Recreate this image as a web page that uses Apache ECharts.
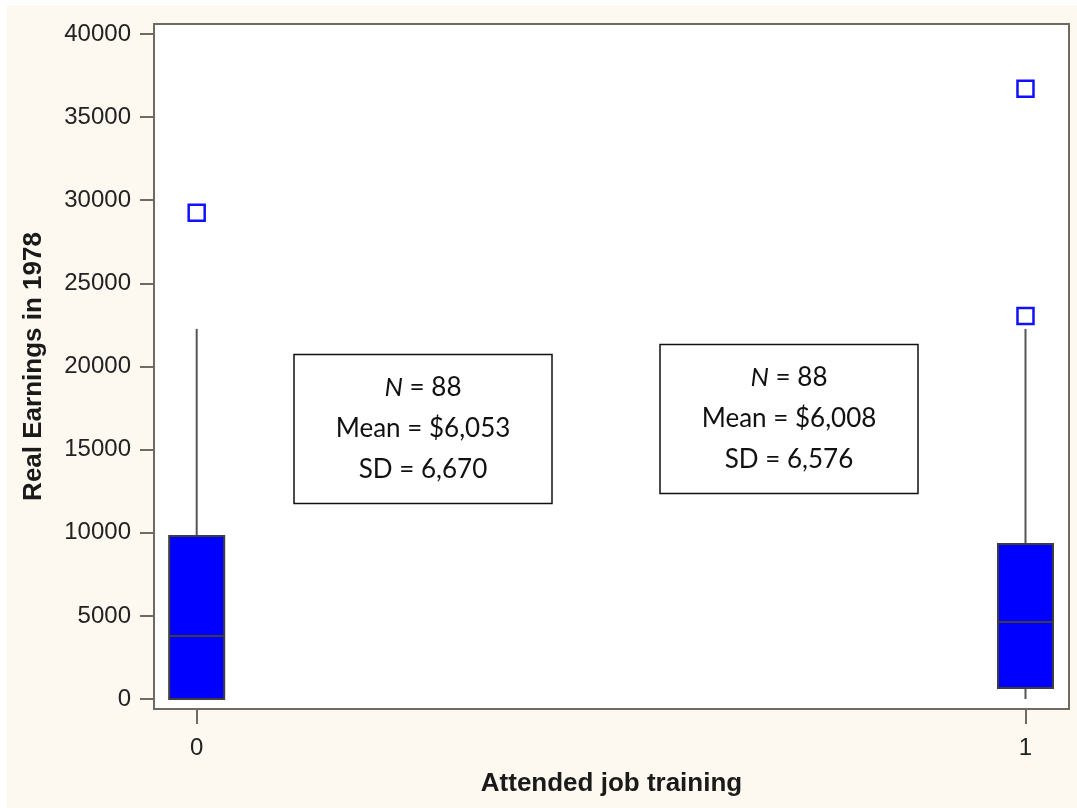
<!DOCTYPE html>
<html>
<head>
<meta charset="utf-8">
<script src="https://cdn.jsdelivr.net/npm/echarts@6/dist/echarts.min.js"></script>
<style>
  html, body { margin: 0; padding: 0; background: #ffffff; }
  #chart { position: absolute; left: 7px; top: 5px; width: 1070px; height: 803px; }
</style>
</head>
<body>
<div id="chart"></div>
<script>
// Groups on the x axis (attended job training: 0 = no, 1 = yes)
const categories = ['0', '1'];
// Box statistics per group: [lower whisker, Q1, median, Q3, upper whisker]
const boxStats = [
  [0, 0, 3790, 9800, 22260],
  [0, 660, 4630, 9330, 22260]
];
// Outliers per group: [group index, earnings]
const outliers = [
  [0, 29240],
  [1, 36700],
  [1, 23040]
];
// Summary statistics shown in the annotation boxes
const groupN = [88, 88];
const groupMean = [6053, 6008];
const groupSD = [6670, 6576];
// Tick values of the earnings axis
const yTicks = [0, 5000, 10000, 15000, 20000, 25000, 30000, 35000, 40000];
const xTicks = [0, 1];

const frameColor = '#6f6b62';
const labelFont = '"Liberation Sans", Arial, sans-serif';
const noteFont = 'Lato, "Open Sans", sans-serif';

const boxData = boxStats.map((s, i) => [i].concat(s));
const fmt = v => v.toLocaleString('en-US');

function noteText(i) {
  return '{i|N} = ' + groupN[i] + '\nMean = $' + fmt(groupMean[i]) + '\nSD = ' + fmt(groupSD[i]);
}

// Annotation box centres in chart pixels
const notes = [
  { cx: 416, cy: 424, w: 258, h: 149 },
  { cx: 782, cy: 414, w: 258, h: 149 }
];

const chart = echarts.init(document.getElementById('chart'), null, { renderer: 'canvas' });

chart.setOption({
  backgroundColor: '#fdf9f1',
  animation: false,
  grid: {
    left: 147, top: 19, right: 8, bottom: 99,
    show: true,
    backgroundColor: '#ffffff',
    borderColor: frameColor,
    borderWidth: 2
  },
  xAxis: {
    type: 'value',
    min: -0.0515,
    max: 1.0525,
    name: 'Attended job training',
    nameLocation: 'middle',
    nameGap: 62,
    nameTextStyle: { fontFamily: labelFont, fontSize: 26, fontWeight: 'bold', color: '#1a1a1a' },
    axisLine: { show: false, onZero: false },
    splitLine: { show: false },
    axisTick: {
      show: true, length: 15, customValues: xTicks,
      lineStyle: { color: frameColor, width: 2 }
    },
    axisLabel: {
      customValues: xTicks,
      formatter: v => categories[Math.round(v)],
      margin: 27,
      fontFamily: labelFont, fontSize: 24, color: '#222'
    }
  },
  yAxis: {
    type: 'value',
    min: -600,
    max: 40600,
    name: 'Real Earnings in 1978',
    nameLocation: 'middle',
    nameGap: 107,
    nameTextStyle: { fontFamily: labelFont, fontSize: 26, fontWeight: 'bold', color: '#1a1a1a' },
    axisLine: { show: false, onZero: false },
    splitLine: { show: false },
    axisTick: {
      show: true, length: 14, customValues: yTicks,
      lineStyle: { color: frameColor, width: 2 }
    },
    axisLabel: {
      customValues: yTicks,
      formatter: v => String(v),
      margin: 23,
      fontFamily: labelFont, fontSize: 24, color: '#222'
    }
  },
  series: [
    {
      type: 'custom',
      data: boxData,
      encode: { x: 0, y: [1, 2, 3, 4, 5] },
      renderItem: function (params, api) {
        const x = api.value(0);
        const pt = k => api.coord([x, api.value(k)]);
        const lo = pt(1), q1 = pt(2), med = pt(3), q3 = pt(4), hi = pt(5);
        const half = 27.5;
        const whisker = { stroke: '#555555', lineWidth: 2 };
        return {
          type: 'group',
          children: [
            { type: 'line', shape: { x1: lo[0], y1: lo[1], x2: lo[0], y2: q1[1] }, style: whisker },
            { type: 'line', shape: { x1: hi[0], y1: hi[1], x2: hi[0], y2: q3[1] }, style: whisker },
            {
              type: 'rect',
              shape: { x: q3[0] - half, y: q3[1], width: half * 2, height: q1[1] - q3[1] },
              style: { fill: '#0000ff', stroke: '#3d3d3d', lineWidth: 2 }
            },
            {
              type: 'line',
              shape: { x1: med[0] - half, y1: med[1], x2: med[0] + half, y2: med[1] },
              style: { stroke: '#3d3d3d', lineWidth: 2 }
            }
          ]
        };
      },
      z: 2
    },
    {
      type: 'scatter',
      data: outliers,
      symbol: 'rect',
      symbolSize: 16,
      itemStyle: { color: '#ffffff', borderColor: '#1010ff', borderWidth: 2.5, opacity: 1 },
      z: 3
    }
  ],
  graphic: notes.map((n, i) => ({
    type: 'group',
    x: n.cx,
    y: n.cy,
    children: [
      {
        type: 'rect',
        shape: { x: -n.w / 2, y: -n.h / 2, width: n.w, height: n.h },
        style: { fill: '#ffffff', stroke: '#111111', lineWidth: 1.5 }
      },
      {
        type: 'text',
        x: 0,
        y: 0,
        style: {
          text: noteText(i),
          fontFamily: noteFont,
          fontSize: 26,
          lineHeight: 41,
          fill: '#111111',
          align: 'center',
          verticalAlign: 'middle',
          rich: {
            i: { fontStyle: 'italic', fontFamily: noteFont, fontSize: 26, lineHeight: 41, fill: '#111111' }
          }
        }
      }
    ]
  }))
});
</script>
</body>
</html>
